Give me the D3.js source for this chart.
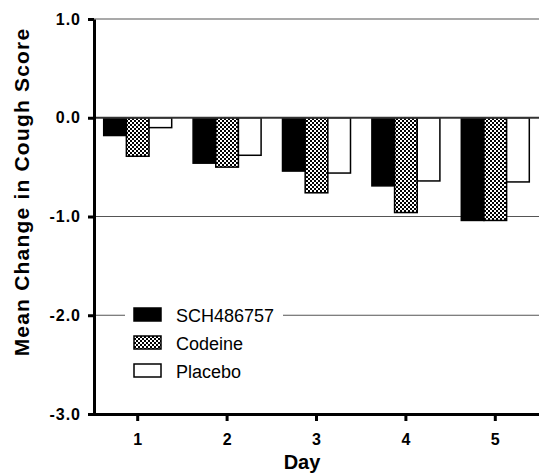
<!DOCTYPE html>
<html>
<head>
<meta charset="utf-8">
<script src="https://cdn.jsdelivr.net/npm/d3@7"></script>
<style>
  body { margin: 0; background: #fff; }
  svg { display: block; font-family: Arial, "Liberation Sans", sans-serif; }
</style>
</head>
<body>
<div id="chart"></div>
<script>
// Cough score change by day
const days = [1, 2, 3, 4, 5];
const seriesNames = ['SCH486757', 'Codeine', 'Placebo'];
const sch = [-0.18, -0.46, -0.54, -0.69, -1.04];
const codeine = [-0.39, -0.50, -0.76, -0.96, -1.04];
const placebo = [-0.10, -0.38, -0.56, -0.64, -0.65];
const yTicks = [1.0, 0.0, -1.0, -2.0, -3.0];

const values = [sch, codeine, placebo];
const fills = ['#000', 'url(#checker)', '#fff'];

const width = 539, height = 475;
const margin = { top: 19, right: 0, bottom: 61, left: 94 };

const svg = d3.select('#chart').append('svg')
    .attr('width', width)
    .attr('height', height);

// checkered fill for codeine
const pat = svg.append('defs').append('pattern')
    .attr('id', 'checker')
    .attr('width', 4).attr('height', 4)
    .attr('patternUnits', 'userSpaceOnUse');
pat.append('rect').attr('width', 4).attr('height', 4).attr('fill', '#000');
pat.append('rect').attr('width', 2).attr('height', 2).attr('fill', '#fff');
pat.append('rect').attr('x', 2).attr('y', 2).attr('width', 2).attr('height', 2).attr('fill', '#fff');

const y = d3.scaleLinear()
    .domain([-3, 1])
    .range([height - margin.bottom, margin.top]);

const x = d3.scaleBand()
    .domain(days)
    .range([93, 540])
    .paddingInner(0)
    .paddingOuter(0);

const xs = d3.scaleBand()
    .domain(seriesNames)
    .range([0, 68]);

// gridlines
svg.append('g')
    .selectAll('line')
    .data([1, -1, -2])
    .enter().append('line')
    .attr('x1', margin.left).attr('x2', width)
    .attr('y1', d => y(d)).attr('y2', d => y(d))
    .attr('stroke', '#555')
    .attr('stroke-width', 1.2);

// bars
seriesNames.forEach((name, i) => {
    svg.append('g')
        .selectAll('rect')
        .data(values[i])
        .enter().append('rect')
        .attr('x', (d, j) => x(days[j]) + x.bandwidth() / 2 - 34 + xs(name))
        .attr('y', y(0))
        .attr('width', xs.bandwidth())
        .attr('height', d => y(d) - y(0))
        .attr('fill', fills[i])
        .attr('stroke', '#000')
        .attr('stroke-width', 1.5);
});

// zero line
svg.append('line')
    .attr('x1', margin.left).attr('x2', width)
    .attr('y1', y(0)).attr('y2', y(0))
    .attr('stroke', '#333')
    .attr('stroke-width', 2);

// y axis
const yAxis = svg.append('g')
    .attr('transform', `translate(${margin.left},0)`)
    .call(d3.axisLeft(y).tickValues(yTicks).tickFormat(d => d.toFixed(1)).tickSize(6).tickSizeOuter(0));
yAxis.select('.domain').attr('stroke', '#000').attr('stroke-width', 3);
yAxis.selectAll('.tick line').attr('stroke', '#000').attr('stroke-width', 3);
yAxis.selectAll('text')
    .attr('font-size', 16).attr('font-weight', 'bold')
    .attr('fill', '#000').attr('font-family', 'Arial, "Liberation Sans", sans-serif')
    .attr('letter-spacing', 1)
    .attr('x', -13);

// x axis
const xAxis = svg.append('g')
    .attr('transform', `translate(0,${y(-3)})`)
    .call(d3.axisBottom(x).tickSize(7).tickSizeOuter(0));
xAxis.select('.domain').attr('stroke', '#000').attr('stroke-width', 3);
xAxis.selectAll('.tick line').attr('stroke', '#000').attr('stroke-width', 3);
xAxis.selectAll('text')
    .attr('font-size', 16).attr('font-weight', 'bold')
    .attr('fill', '#000').attr('font-family', 'Arial, "Liberation Sans", sans-serif')
    .attr('y', 20);

// axis titles
svg.append('text')
    .attr('x', 302)
    .attr('y', 469)
    .attr('text-anchor', 'middle')
    .attr('font-size', 20).attr('font-weight', 'bold')
    .text('Day');

svg.append('text')
    .attr('transform', 'translate(29,192) rotate(-90)')
    .attr('text-anchor', 'middle')
    .attr('font-size', 21).attr('font-weight', 'bold')
    .attr('letter-spacing', 1.2)
    .text('Mean Change in Cough Score');

// legend
const legend = svg.append('g').attr('transform', 'translate(125,302)');
legend.append('rect')
    .attr('width', 158).attr('height', 80)
    .attr('fill', '#fff');
seriesNames.forEach((name, i) => {
    const row = legend.append('g').attr('transform', `translate(9,${6 + i * 28})`);
    row.append('rect')
        .attr('width', 27).attr('height', 13)
        .attr('fill', fills[i])
        .attr('stroke', '#000').attr('stroke-width', 1.5);
    row.append('text')
        .attr('x', 42).attr('y', 14)
        .attr('font-size', 18)
        .text(name);
});
</script>
</body>
</html>
